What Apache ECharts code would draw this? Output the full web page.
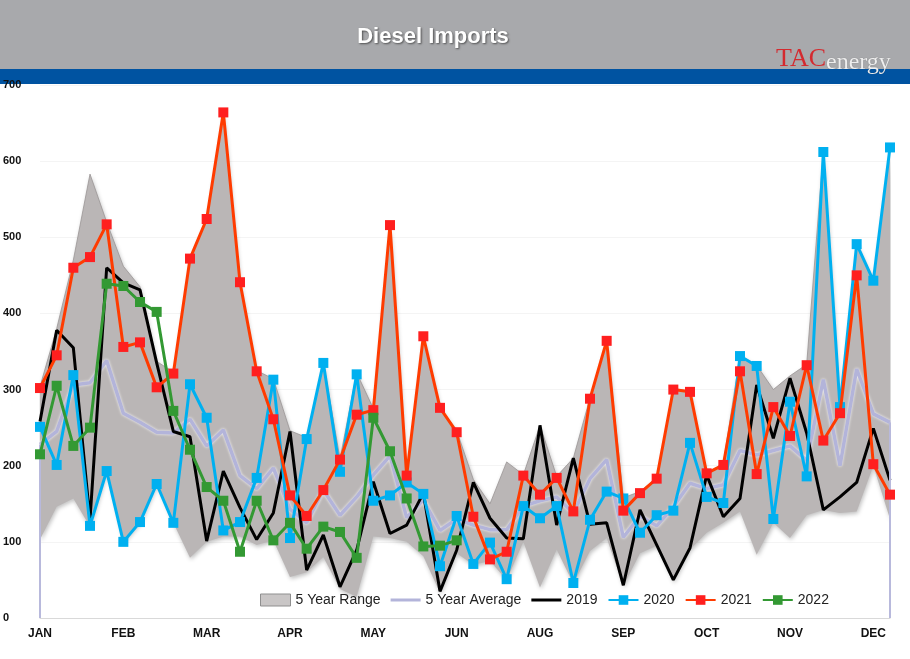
<!DOCTYPE html>
<html>
<head>
<meta charset="utf-8">
<script src="https://cdn.jsdelivr.net/npm/echarts@6/dist/echarts.min.js"></script>
<style>
html,body{margin:0;padding:0;background:#fff;}
#chart{width:910px;height:659px;}
</style>
</head>
<body>
<div id="chart"></div>
<script>
// ---- data ----
const weeks = ['W1','W2','W3','W4','W5','W6','W7','W8','W9','W10','W11','W12','W13','W14','W15','W16','W17','W18','W19','W20','W21','W22','W23','W24','W25','W26','W27','W28','W29','W30','W31','W32','W33','W34','W35','W36','W37','W38','W39','W40','W41','W42','W43','W44','W45','W46','W47','W48','W49','W50','W51','W52'];
const monthTicks = ['JAN','FEB','MAR','APR','MAY','JUN','AUG','SEP','OCT','NOV','DEC'];
const yTicks = [0,100,200,300,400,500,600,700];

const rangeLow = [103,146,157,120,193,100,126,176,125,79,100,107,107,96,102,54,60,80,38,28,107,105,100,81,33,85,70,75,50,100,40,90,45,88,105,42,85,95,48,90,112,125,140,83,125,105,135,142,138,140,200,130];
const rangeHigh = [304,380,470,583,520,462,435,337,323,473,525,665,442,325,314,246,237,336,209,322,275,517,190,371,277,246,182,150,205,188,253,186,210,289,365,158,166,184,301,298,190,203,345,332,300,318,333,613,280,492,444,619];
const avg5 = [228,245,306,309,338,269,257,244,243,261,226,247,187,170,197,143,125,168,135,159,188,213,132,155,115,130,122,116,116,147,154,159,138,183,208,106,134,121,146,177,170,175,220,214,220,226,207,313,200,327,268,257];
const y2019 = [258,378,355,129,460,440,431,335,245,238,101,193,145,103,138,245,63,109,41,89,179,111,122,164,35,89,178,131,105,104,253,122,210,123,125,43,142,96,50,92,188,133,157,306,236,315,243,142,159,178,249,181];
const y2020 = [251,201,319,121,193,100,126,176,125,307,263,115,126,184,313,105,235,335,192,320,154,161,178,163,68,134,71,99,51,147,131,147,46,129,166,157,112,135,141,230,159,151,344,331,130,284,186,612,277,491,443,618];
const y2021 = [302,345,460,474,517,356,362,303,321,472,524,664,441,324,261,161,134,168,208,267,273,516,187,370,276,244,133,77,87,187,162,184,140,288,364,141,164,183,300,297,190,201,324,189,277,239,332,233,269,450,202,162];
const y2022 = [215,305,226,250,439,436,415,402,272,221,172,154,87,154,102,125,91,120,113,79,263,219,157,94,95,102];

// ---- chart ----
const rangeSpan = rangeHigh.map((v, i) => v - rangeLow[i]);
const chart = echarts.init(document.getElementById('chart'), null, {renderer: 'canvas'});
const FONT = '"Liberation Sans", Arial, sans-serif';
const LINE_ICON = 'path://M0,0L30,0L30,3L0,3Z';

const option = {
  animation: false,
  backgroundColor: '#ffffff',
  grid: {left: 40, right: 20, top: 85, bottom: 41, containLabel: false},
  graphic: [
    {type: 'rect', z: 0, shape: {x: 0, y: 0, width: 910, height: 69}, style: {fill: '#a8a9ac'}},
    {type: 'rect', z: 0, shape: {x: 0, y: 69, width: 910, height: 15}, style: {fill: '#0053a1'}},
    {type: 'text', z: 10, style: {x: 433, y: 37, text: 'Diesel Imports', fill: '#ffffff',
      font: 'bold 22px ' + FONT, textAlign: 'center', textVerticalAlign: 'middle',
      textShadowColor: 'rgba(60,60,60,0.8)', textShadowBlur: 2, textShadowOffsetX: 1, textShadowOffsetY: 1}},
    {type: 'text', z: 10, style: {x: 826, y: 72, text: 'TAC', fill: '#d42a2f',
      font: '26px "Liberation Serif", serif', textAlign: 'right', textVerticalAlign: 'bottom'}},
    {type: 'text', z: 10, style: {x: 826, y: 75, text: 'energy', fill: '#eeeeee',
      font: '24px "Liberation Serif", serif', textAlign: 'left', textVerticalAlign: 'bottom',
      textShadowColor: 'rgba(0,0,0,0.35)', textShadowBlur: 1}}
  ],
  legend: {
    left: 255, top: 588, itemWidth: 30, itemHeight: 12, itemGap: 10,
    textStyle: {fontFamily: FONT, fontSize: 14, color: '#222'},
    data: [
      {name: '5 Year Range', icon: 'rect', itemStyle: {color: '#c9c6c6', borderColor: '#8f8f8f', borderWidth: 1}},
      {name: '5 Year Average', icon: LINE_ICON, itemStyle: {color: '#b3b4da'}},
      {name: '2019', icon: LINE_ICON, itemStyle: {color: '#000000'}},
      {name: '2020'}, {name: '2021'}, {name: '2022'}
    ]
  },
  xAxis: {
    type: 'category', data: weeks, boundaryGap: false,
    axisLine: {show: true, lineStyle: {color: '#d9d9d9', width: 1}},
    axisTick: {show: false},
    splitLine: {show: false},
    axisLabel: {
      interval: 0, margin: 10, color: '#111', fontFamily: FONT, fontWeight: 'bold', fontSize: 12,
      formatter: function (v, idx) { return idx % 5 === 0 ? (monthTicks[idx / 5] || '') : ''; }
    }
  },
  yAxis: {
    type: 'value', min: yTicks[0], max: yTicks[yTicks.length - 1], interval: 100,
    axisLine: {show: false}, axisTick: {show: false},
    splitLine: {show: true, lineStyle: {color: '#f4f4f4', width: 1}},
    axisLabel: {color: '#111', fontFamily: FONT, fontWeight: 'bold', fontSize: 11, align: 'left', margin: 37}
  },
  series: [
    {name: 'rangeBase', type: 'line', stack: 'range', data: rangeLow, symbol: 'none', silent: true,
      lineStyle: {opacity: 0, width: 0}, areaStyle: {opacity: 0}, z: 1},
    {name: '5 Year Range', type: 'line', stack: 'range', data: rangeSpan, symbol: 'none', silent: true,
      itemStyle: {color: '#b9b5b5'},
      lineStyle: {color: '#9a9696', width: 0.8},
      areaStyle: {color: '#bab6b6', opacity: 1, shadowColor: 'rgba(0,0,0,0.25)', shadowBlur: 4, shadowOffsetX: 1, shadowOffsetY: 2},
      z: 2},
    {name: '5 Year Average', type: 'line', data: avg5, symbol: 'none',
      itemStyle: {color: '#b3b4da'},
      lineStyle: {color: '#b3b4da', width: 3.5, shadowColor: 'rgba(255,255,255,0.9)', shadowBlur: 3},
      markLine: {symbol: 'none', silent: true, label: {show: false},
        lineStyle: {color: '#b8b9dc', width: 2, type: 'solid'},
        data: [
          [{coord: [0, 0]}, {coord: [0, avg5[0]]}],
          [{coord: [avg5.length - 1, 0]}, {coord: [avg5.length - 1, avg5[avg5.length - 1]]}]
        ]},
      z: 3},
    {name: '2019', type: 'line', data: y2019, symbol: 'none',
      itemStyle: {color: '#000000'}, lineStyle: {color: '#000000', width: 3}, z: 4},
    {name: '2020', type: 'line', data: y2020, symbol: 'rect', symbolSize: 10,
      itemStyle: {color: '#00b0f0'}, lineStyle: {color: '#00b0f0', width: 3}, z: 5},
    {name: '2021', type: 'line', data: y2021, symbol: 'rect', symbolSize: 10,
      itemStyle: {color: '#ff1f1f'}, lineStyle: {color: '#ff3b00', width: 3}, z: 6},
    {name: '2022', type: 'line', data: y2022, symbol: 'rect', symbolSize: 10,
      itemStyle: {color: '#339933'}, lineStyle: {color: '#339933', width: 3}, z: 7}
  ]
};
chart.setOption(option);
</script>
</body>
</html>
